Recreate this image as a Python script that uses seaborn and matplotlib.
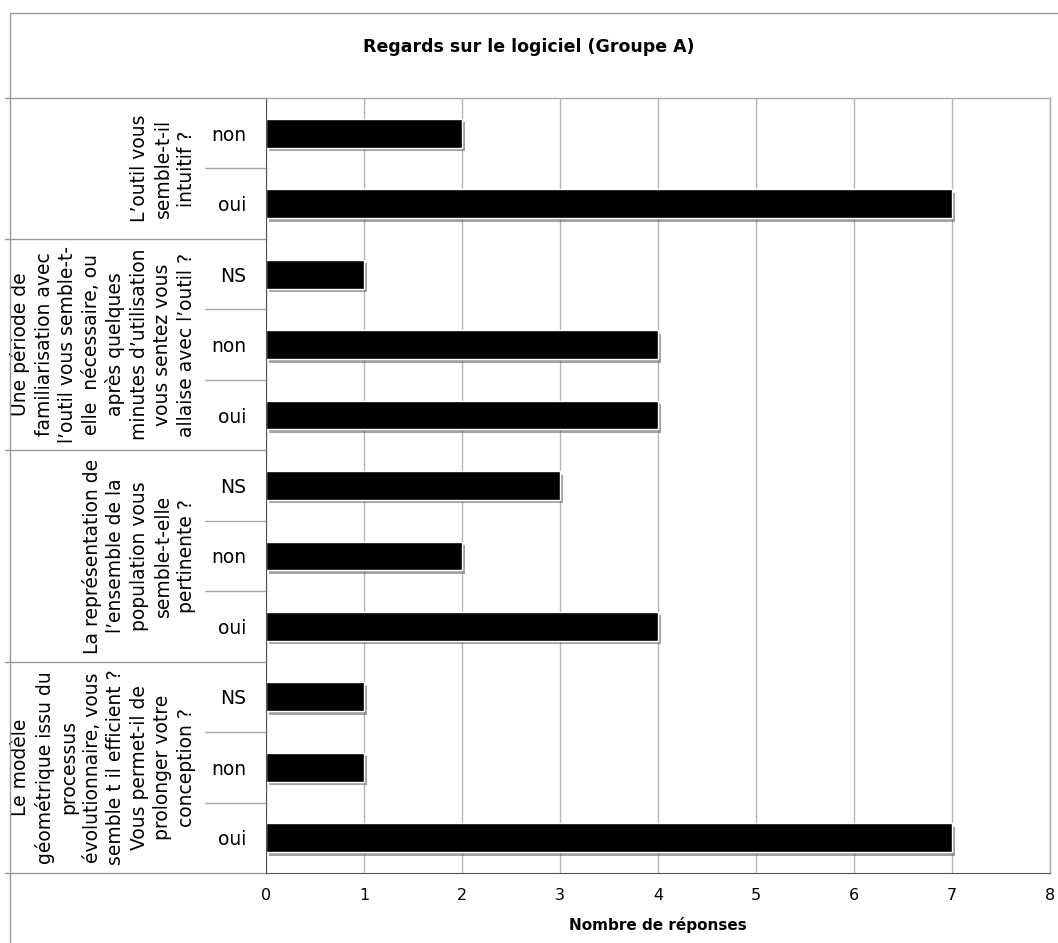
import matplotlib
matplotlib.use("Agg")
import matplotlib.pyplot as plt
import matplotlib.patheffects as pe
import matplotlib.transforms as mtransforms
import seaborn as sns
import pandas as pd

# ---- data ----
questions = [
    "L\u2019outil vous\nsemble-t-il\nintuitif ?",
    "Une période de\nfamiliarisation avec\nl\u2019outil vous semble-t-\nelle  nécessaire, ou\naprès quelques\nminutes d\u2019utilisation\nvous sentez vous\nallaise avec l\u2019outil ?",
    "La représentation de\nl\u2019ensemble de la\npopulation vous\nsemble-t-elle\npertinente ?",
    "Le modèle\ngéométrique issu du\nprocessus\névolutionnaire, vous\nsemble t il efficient ?\nVous permet-il de\nprolonger votre\nconception ?",
]
reponses_q1 = ["non", "oui"]
valeurs_q1 = [2, 7]
reponses_q2 = ["NS", "non", "oui"]
valeurs_q2 = [1, 4, 4]
reponses_q3 = ["NS", "non", "oui"]
valeurs_q3 = [3, 2, 4]
reponses_q4 = ["NS", "non", "oui"]
valeurs_q4 = [1, 1, 7]
x_ticks = [0, 1, 2, 3, 4, 5, 6, 7, 8]
title = "Regards sur le logiciel (Groupe A)"
xlabel = "Nombre de réponses"

groups = [(reponses_q1, valeurs_q1), (reponses_q2, valeurs_q2),
          (reponses_q3, valeurs_q3), (reponses_q4, valeurs_q4)]
rows = []
for gi, (reps, vals) in enumerate(groups):
    for r, v in zip(reps, vals):
        rows.append({"groupe": gi, "reponse": r, "cle": f"{gi}_{r}", "nombre": v})
df = pd.DataFrame(rows)
n = len(df)

# ---- figure ----
sns.set_style("white")
plt.rcParams["font.family"] = ["DejaVu Sans"]
plt.rcParams["text.color"] = "black"
plt.rcParams["xtick.color"] = "black"
plt.rcParams["ytick.color"] = "black"
plt.rcParams["axes.labelcolor"] = "black"

W, H = 1058, 943
fig = plt.figure(figsize=(W / 100, H / 100), dpi=100)
L, R, T, B = 266, 1050, 98, 873
ax = fig.add_axes([L / W, 1 - B / H, (R - L) / W, (B - T) / H])

sns.barplot(data=df, y="cle", x="nombre", color="black", width=0.41,
            orient="h", ax=ax, saturation=1)
for p in ax.patches:
    p.set_path_effects([pe.SimplePatchShadow(offset=(2.5, -2.5), shadow_rgbFace="#666666", alpha=0.6),
                        pe.Normal()])

ax.set_ylim(n - 0.5, -0.5)
ax.set_xlim(0, 8)
ax.set_xticks(x_ticks)
ax.set_xticklabels([str(t) for t in x_ticks], fontsize=11.5)
ax.xaxis.grid(True, color="#b5b5b5", linewidth=1)
ax.set_axisbelow(True)
ax.set_yticks(range(n))
ax.set_yticklabels(df["reponse"], fontsize=13.5)
ax.tick_params(axis="y", length=0, pad=14)
ax.tick_params(axis="x", length=5, width=1, color="#666666", pad=6, direction="out")
ax.set_ylabel("")
ax.set_xlabel(xlabel, fontsize=11, fontweight="bold", labelpad=10)
for s in ["top", "right"]:
    ax.spines[s].set_color("#aaaaaa")
    ax.spines[s].set_linewidth(1)
ax.spines["left"].set_color("#555555")
ax.spines["bottom"].set_color("#555555")

# separators and group labels
trans = mtransforms.blended_transform_factory(ax.transAxes, ax.transData)
def xf(px):
    return (px - L) / (R - L)

idx = 0
bounds = [-0.5]
for gi, (reps, vals) in enumerate(groups):
    start = idx
    idx += len(reps)
    bounds.append(idx - 0.5)
    for k in range(start + 1, idx):
        ax.plot([xf(205), 0], [k - 0.5, k - 0.5], transform=trans, color="#aaaaaa",
                lw=1, clip_on=False)
    center = (start + idx - 1) / 2
    ax.text(xf(196), center, questions[gi], transform=trans, rotation=90,
            ha="right", va="center", multialignment="center", fontsize=13.5,
            linespacing=1.3)
for b in bounds:
    ax.plot([xf(5), 0], [b, b], transform=trans, color="#999999", lw=1, clip_on=False)

# outer frame lines
fig.add_artist(plt.Line2D([10 / W, 10 / W], [0, 1 - 13 / H], color="#999999", lw=1))
fig.add_artist(plt.Line2D([10 / W, 1], [1 - 13 / H, 1 - 13 / H], color="#999999", lw=1))

fig.text(529 / W, 1 - 47 / H, title, ha="center", va="center", fontsize=12.5,
         fontweight="bold")

fig.savefig("out.png", dpi=100)
